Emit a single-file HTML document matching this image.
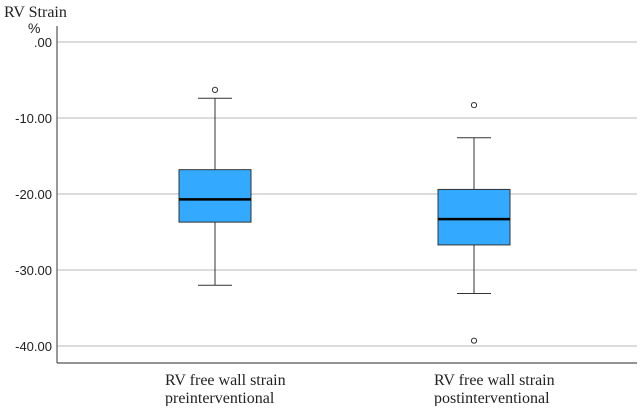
<!DOCTYPE html>
<html><head><meta charset="utf-8"><style>
body{margin:0;background:#fff;width:643px;height:406px;overflow:hidden}
svg{font-family:"Liberation Serif",serif}
</style></head><body>
<svg width="643" height="406" viewBox="0 0 643 406" xmlns="http://www.w3.org/2000/svg">
<g id="root"></g>
</svg>
<script>
const categories=["RV free wall strain|preinterventional","RV free wall strain|postinterventional"];
const q1Values=[-23.7,-26.7];
const medianValues=[-20.7,-23.3];
const q3Values=[-16.8,-19.4];
const whiskerLow=[-32.0,-33.1];
const whiskerHigh=[-7.4,-12.6];
const outlierValues=[[-6.3],[-8.3,-39.3]];
const tickValues=[0,-10,-20,-30,-40];
const tickLabels=[".00","-10.00","-20.00","-30.00","-40.00"];

const NS="http://www.w3.org/2000/svg";
const root=document.getElementById('root');
const X0=57,X1=637,YB=363;
const y=v=>42+(0-v)*7.6;
const xc=i=>[215,474][i];
const lx=i=>[165,434][i];
function mk(tag,attrs,parent){const e=document.createElementNS(NS,tag);for(const k in attrs)e.setAttribute(k,attrs[k]);(parent||root).appendChild(e);return e;}

const t1=mk('text',{x:4,y:17,'font-size':16,fill:'#222'});t1.textContent='RV Strain';


const t2=mk('text',{x:28,y:33,'font-size':14,fill:'#222','font-family':'Liberation Sans, sans-serif'});t2.textContent='%';



tickValues.forEach((v,i)=>{
  const g=mk('line',{x1:X0,x2:X1,y1:y(v),y2:y(v),stroke:'#c8c8c8','stroke-width':1.2});
  
  
  const t=mk('text',{x:52,y:y(v)+5,'font-size':13,'text-anchor':'end',fill:'#222','font-family':'Liberation Sans, sans-serif'});
  t.textContent=tickLabels[i];
  
  
});
const ya=mk('line',{x1:X0,x2:X0,y1:26,y2:YB,stroke:'#555','stroke-width':1.2});


const xa=mk('line',{x1:X0,x2:X1,y1:YB,y2:YB,stroke:'#555','stroke-width':1.2});



categories.forEach((c,i)=>{
  const cx=xc(i);
  const g=mk('g',{});
  
  
  mk('line',{x1:cx,x2:cx,y1:y(whiskerHigh[i]),y2:y(q3Values[i]),stroke:'#333'},g);
  mk('line',{x1:cx,x2:cx,y1:y(q1Values[i]),y2:y(whiskerLow[i]),stroke:'#333'},g);
  mk('line',{x1:cx-17,x2:cx+17,y1:y(whiskerHigh[i]),y2:y(whiskerHigh[i]),stroke:'#333'},g);
  mk('line',{x1:cx-17,x2:cx+17,y1:y(whiskerLow[i]),y2:y(whiskerLow[i]),stroke:'#333'},g);
  mk('rect',{x:cx-36,y:y(q3Values[i]),width:72,height:y(q1Values[i])-y(q3Values[i]),fill:'#33aaff',stroke:'#333'},g);
  mk('line',{x1:cx-36,x2:cx+36,y1:y(medianValues[i]),y2:y(medianValues[i]),stroke:'#000','stroke-width':2.5},g);
  outlierValues[i].forEach(o=>{
    const c2=mk('circle',{cx:cx,cy:y(o),r:2.6,fill:'#fff',stroke:'#333'},g);
    
    
  });
  const lines=c.split('|');
  lines.forEach((l,j)=>{
    const t=mk('text',{x:lx(i),y:385+j*18,'font-size':16,fill:'#222'});
    t.textContent=l;
    
    
  });
});
</script>
</body></html>
